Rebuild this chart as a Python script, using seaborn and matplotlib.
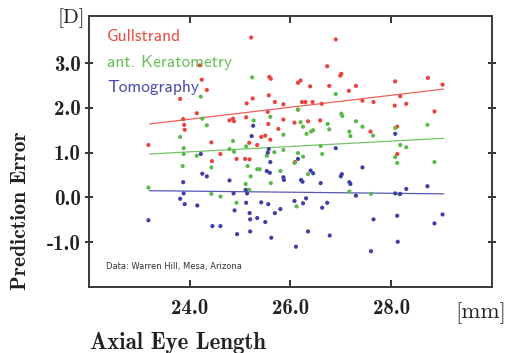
import numpy as np
import pandas as pd
import matplotlib
matplotlib.use("Agg")
import matplotlib.pyplot as plt
import seaborn as sns

# Axial eye length [mm] and prediction error [D] per formula
gull_x = [23.18, 23.81, 23.87, 23.89, 23.90, 24.14, 24.20, 24.24, 24.34, 24.43,
          24.61, 24.44, 24.79, 24.86, 24.88, 24.93, 25.10, 25.19, 25.12, 25.13,
          25.25, 25.22, 25.18, 25.34, 25.42, 25.50, 25.60, 25.56, 25.55, 25.57,
          25.58, 25.61, 25.69, 25.76, 25.86, 25.86, 26.08, 26.09, 26.15, 26.15,
          26.20, 26.23, 26.30, 26.35, 26.39, 26.44, 26.59, 26.62, 26.73, 26.77,
          26.90, 26.99, 27.01, 27.16, 27.30, 27.43, 27.59, 27.65, 28.07, 28.08,
          28.12, 28.12, 28.18, 28.30, 28.73, 28.86, 29.02]
gull_y = [1.17, 2.20, 1.75, 1.62, 1.51, 1.88, 2.95, 2.63, 2.40, 1.23,
          0.97, 0.81, 1.72, 1.76, 1.70, 0.86, 0.86, 0.85, 1.79, 2.10,
          2.21, 3.57, 1.22, 1.17, 1.35, 1.38, 1.29, 1.64, 1.91, 2.28,
          2.69, 2.65, 2.13, 1.53, 1.74, 2.08, 1.67, 0.79, 1.96, 2.56,
          2.61, 2.13, 2.13, 1.70, 2.48, 2.13, 1.72, 2.09, 2.93, 2.49,
          3.53, 2.72, 2.76, 2.38, 2.49, 2.16, 1.47, 2.13, 2.05, 2.59,
          1.58, 0.97, 2.26, 2.09, 2.67, 1.92, 2.52]

kera_x = [23.18, 23.81, 23.88, 23.88, 23.86, 24.14, 24.22, 24.25, 24.34, 24.43,
          24.43, 24.61, 24.79, 24.86, 24.88, 24.93, 25.11, 25.12, 25.15, 25.18,
          25.21, 25.24, 25.27, 25.34, 25.39, 25.53, 25.60, 25.61, 25.68, 25.80,
          25.86, 25.86, 26.08, 26.12, 26.15, 26.15, 26.20, 26.25, 26.25, 26.32,
          26.35, 26.41, 26.45, 26.60, 26.63, 26.74, 26.77, 26.90, 27.01, 27.03,
          27.17, 27.19, 27.17, 27.30, 27.43, 27.60, 27.64, 28.08, 28.08, 28.12,
          28.16, 28.18, 28.30, 28.72, 28.86]
kera_y = [0.22, 1.35, 1.10, 0.97, 0.70, 0.93, 2.25, 1.76, 1.61, 0.67,
          0.08, 0.02, 1.08, 1.26, 1.02, -0.12, 0.30, 1.14, 0.70, 0.17,
          0.47, 2.68, 1.72, 0.63, 0.63, 0.93, 1.80, 0.32, 1.01, 0.59,
          1.06, 1.40, 0.77, -0.20, 0.99, 1.96, 1.68, 1.58, 0.91, 1.42,
          0.52, 1.47, 1.50, 1.15, 0.97, 1.64, 1.52, 2.31, 1.87, 1.82,
          1.47, 1.37, 0.13, 1.70, 1.58, 0.08, 1.38, 1.55, 0.90, 0.77,
          0.07, 1.17, 1.12, 1.62, 0.79]

tomo_x = [23.18, 23.81, 23.87, 23.88, 23.90, 24.15, 24.22, 24.25, 24.34, 24.45,
          24.61, 24.79, 24.87, 24.89, 24.94, 25.11, 25.14, 25.12, 25.19, 25.20,
          25.20, 25.23, 25.26, 25.34, 25.42, 25.50, 25.55, 25.57, 25.53, 25.59,
          25.60, 25.56, 25.62, 25.69, 25.80, 25.86, 25.87, 26.08, 26.11, 26.15,
          26.21, 26.24, 26.25, 26.31, 26.35, 26.40, 26.45, 26.60, 26.63, 26.73,
          26.78, 26.90, 27.00, 27.02, 27.17, 27.19, 27.30, 27.43, 27.60, 27.65,
          28.08, 28.08, 28.12, 28.13, 28.18, 28.30, 28.72, 28.86, 29.02]
tomo_y = [-0.51, -0.03, 0.34, 0.09, -0.15, -0.18, 0.97, 0.53, 0.47, -0.64,
          -0.64, 0.38, 0.09, -0.29, -0.82, 0.17, 0.09, -0.12, -0.35, -0.49,
          -0.76, 1.37, 1.60, -0.46, -0.11, -0.55, 1.00, 1.08, 0.59, 0.55,
          0.79, -0.15, -0.90, -0.35, -0.26, 0.45, 0.39, -0.08, -1.10, 0.86,
          0.39, 0.35, -0.13, -0.02, -0.76, 0.60, 0.54, 0.32, -0.23, -0.12,
          -0.85, 1.10, 0.47, 0.52, 0.34, 0.30, 0.04, 0.67, -1.20, -0.49,
          1.42, 0.09, -0.41, -0.99, 0.08, 0.19, 0.25, -0.58, -0.38]

# Linear trend per formula, evaluated at both ends of the measured range
trend_x = [23.2, 29.04]
gull_trend = [1.64, 2.42]
kera_trend = [0.97, 1.32]
tomo_trend = [0.15, 0.08]

series = ["Gullstrand", "ant. Keratometry", "Tomography"]
x_ticks = [24.0, 26.0, 28.0]
y_ticks = [-1.0, 0.0, 1.0, 2.0, 3.0]
x_tick_labels = ["24.0", "26.0", "28.0"]
y_tick_labels = ["-1.0", "0.0", "1.0", "2.0", "3.0"]

point_colors = {"Gullstrand": "#e9443e", "ant. Keratometry": "#5cba4c",
                "Tomography": "#3f3fa6"}
line_colors = {"Gullstrand": "#ef605a", "ant. Keratometry": "#74c568",
               "Tomography": "#5858b9"}
text_colors = {"Gullstrand": "#ec4a44", "ant. Keratometry": "#66be57",
               "Tomography": "#4848ad"}

points = pd.concat([
    pd.DataFrame({"AL": gull_x, "PE": gull_y, "formula": series[0]}),
    pd.DataFrame({"AL": kera_x, "PE": kera_y, "formula": series[1]}),
    pd.DataFrame({"AL": tomo_x, "PE": tomo_y, "formula": series[2]}),
], ignore_index=True)
trends = pd.concat([
    pd.DataFrame({"AL": trend_x, "PE": gull_trend, "formula": series[0]}),
    pd.DataFrame({"AL": trend_x, "PE": kera_trend, "formula": series[1]}),
    pd.DataFrame({"AL": trend_x, "PE": tomo_trend, "formula": series[2]}),
], ignore_index=True)

sns.set_style("white")
plt.rcParams["axes.unicode_minus"] = False

fig = plt.figure(figsize=(5.10, 3.53), dpi=100)
ax = fig.add_axes([0.1745, 0.187, 0.79, 0.7675])

sns.scatterplot(data=points, x="AL", y="PE", hue="formula", palette=point_colors,
                hue_order=series, s=9, linewidth=0, legend=False, ax=ax, zorder=3)
sns.lineplot(data=trends, x="AL", y="PE", hue="formula", palette=line_colors,
             hue_order=series, linewidth=0.9, legend=False, ax=ax, zorder=2)

ax.set_xlim(22.0, 30.0)
ax.set_ylim(-2.0, 4.05)
ax.set_xticks(x_ticks)
ax.set_xticklabels(x_tick_labels)
ax.set_yticks(y_ticks)
ax.set_yticklabels(y_tick_labels)
ax.set_xlabel("")
ax.set_ylabel("")

for lab in ax.get_xticklabels() + ax.get_yticklabels():
    lab.set_fontfamily("cmb10")
    lab.set_fontsize(15)
    lab.set_color("#222222")

ax.tick_params(axis="x", which="both", direction="in", top=True, bottom=True,
               length=5, width=1.4, color="#333333", pad=9)
ax.tick_params(axis="y", which="both", direction="inout", left=True, right=True,
               length=6, width=1.4, color="#333333", pad=3)

for side in ["left", "bottom", "top", "right"]:
    ax.spines[side].set_visible(True)
    ax.spines[side].set_color("#3a3a3a")
    ax.spines[side].set_linewidth(1.4)

# Formula names written in their own colours
for name, ypos in zip(series, [0.926, 0.830, 0.738]):
    ax.text(0.045, ypos, name, transform=ax.transAxes, ha="left", va="center",
            family="cmss10", fontsize=12.5, color=text_colors[name])

ax.text(0.042, 0.074, "Data: Warren Hill, Mesa, Arizona", transform=ax.transAxes,
        ha="left", va="center", family="DejaVu Sans", fontsize=6, color="#333333")

fig.text(0.112, 0.949, "[D]", ha="left", va="center", family="cmr10",
         fontsize=15, color="#222222")
fig.text(0.892, 0.113, "[mm]", ha="left", va="center", family="cmr10",
         fontsize=16.5, color="#222222")
fig.text(0.176, 0.028, "Axial Eye Length", ha="left", va="center", family="cmb10",
         fontsize=16.5, color="#222222")
fig.text(0.041, 0.178, "Prediction Error", ha="center", va="bottom", rotation=90,
         family="cmb10", fontsize=15.5, color="#222222")

fig.savefig("out.png", dpi=100, facecolor="white")
